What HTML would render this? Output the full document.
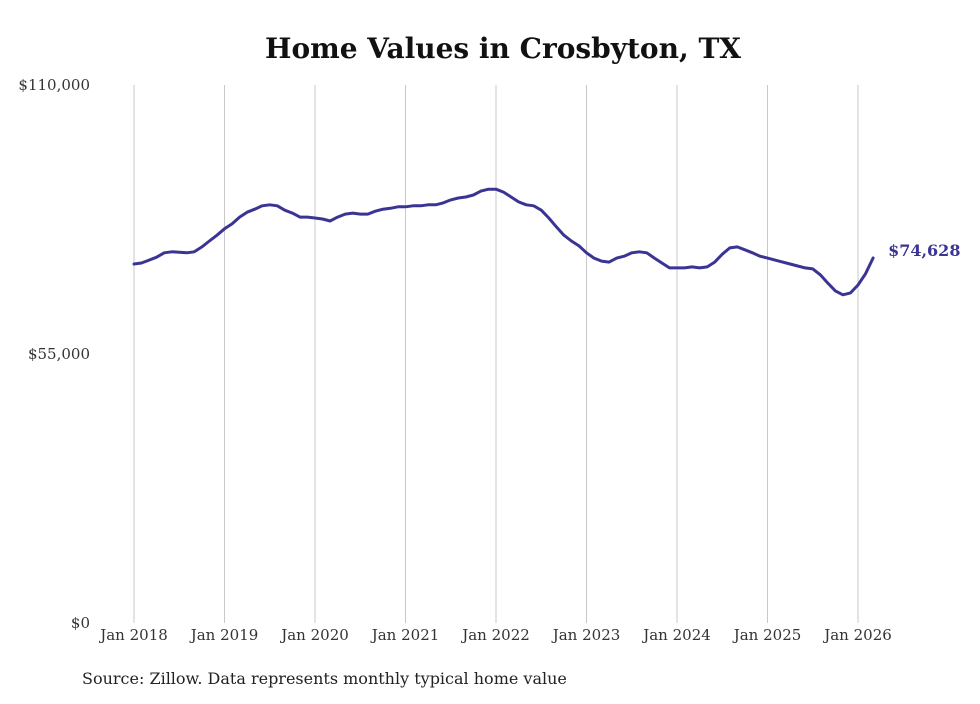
<!DOCTYPE html>
<html><head><meta charset="utf-8"><style>
body{margin:0;background:#fff;}
svg text{font-family:"DejaVu Serif","Liberation Serif",serif;}
</style></head><body>
<svg width="980" height="699" viewBox="0 0 980 699" xmlns="http://www.w3.org/2000/svg">
<rect width="980" height="699" fill="#fff"/>
<text x="503" y="58" text-anchor="middle" font-size="28" font-weight="bold" fill="#111">Home Values in Crosbyton, TX</text>
<g id="grid"></g><g id="yax"></g><g id="xax"></g><g id="series"></g>
<text x="82" y="684" font-size="16" fill="#222">Source: Zillow. Data represents monthly typical home value</text>
</svg>
<script>
const yTicks=[0,55000,110000];
const yTickLabels=["$0","$55,000","$110,000"];
const xTickYears=[2018,2019,2020,2021,2022,2023,2024,2025,2026];
const values=[
73400,73600,74200,74800,75700,75900,75800,75700,75900,76900,78100,79300,
80600,81600,83000,84000,84600,85300,85500,85300,84400,83800,83000,83000,
82800,82600,82200,83000,83600,83800,83600,83600,84200,84600,84800,85100,
85100,85300,85300,85500,85500,85900,86500,86900,87100,87500,88300,88700,
88700,88100,87100,86100,85500,85300,84400,82800,81000,79300,78100,77100,
75700,74600,74000,73800,74600,75000,75700,75900,75700,74600,73600,72600,
72600,72600,72800,72600,72800,73800,75400,76700,76900,76300,75700,75000,
74600,74200,73800,73400,73000,72600,72400,71200,69500,67900,67100,67500,
69100,71400,74628];
const startYear=2018;
const lastLabel="$74,628";
const NS="http://www.w3.org/2000/svg";
const x0=134,yearW=90.5,yTop=85,yBot=623,yMax=110000;
const xs=m=>x0+m*yearW/12;
const ys=v=>yBot-v/yMax*(yBot-yTop);
function mk(t,a,p){const e=document.createElementNS(NS,t);for(const k in a)e.setAttribute(k,a[k]);p.appendChild(e);return e;}
const grid=document.getElementById('grid'),yax=document.getElementById('yax'),xax=document.getElementById('xax'),ser=document.getElementById('series');
xTickYears.forEach(y=>{
 const x=xs((y-startYear)*12);
 const l=mk('line',{x1:x,x2:x,y1:yTop,y2:yBot,stroke:'#c8c8c8','stroke-width':1},grid);
 
 
 const t=mk('text',{x:x,y:640,'text-anchor':'middle','font-size':15,fill:'#333'},xax);
 t.textContent='Jan '+y;
 
 
});
yTicks.forEach((v,i)=>{
 const t=mk('text',{x:90,y:ys(v)+5,'text-anchor':'end','font-size':15,fill:'#333'},yax);
 t.textContent=yTickLabels[i];
 
 
});
const d=values.map((v,i)=>(i?'L':'M')+xs(i).toFixed(1)+','+ys(v).toFixed(1)).join(' ');
const p=mk('path',{d:d,fill:'none',stroke:'#3a3494','stroke-width':3,'stroke-linejoin':'round','stroke-linecap':'round'},ser);


const li=values.length-1;
const lt=mk('text',{x:xs(li)+15,y:ys(values[li])-2,'font-size':16,'font-weight':'bold',fill:'#3a3494'},ser);
lt.textContent=lastLabel;


</script>
</body></html>
